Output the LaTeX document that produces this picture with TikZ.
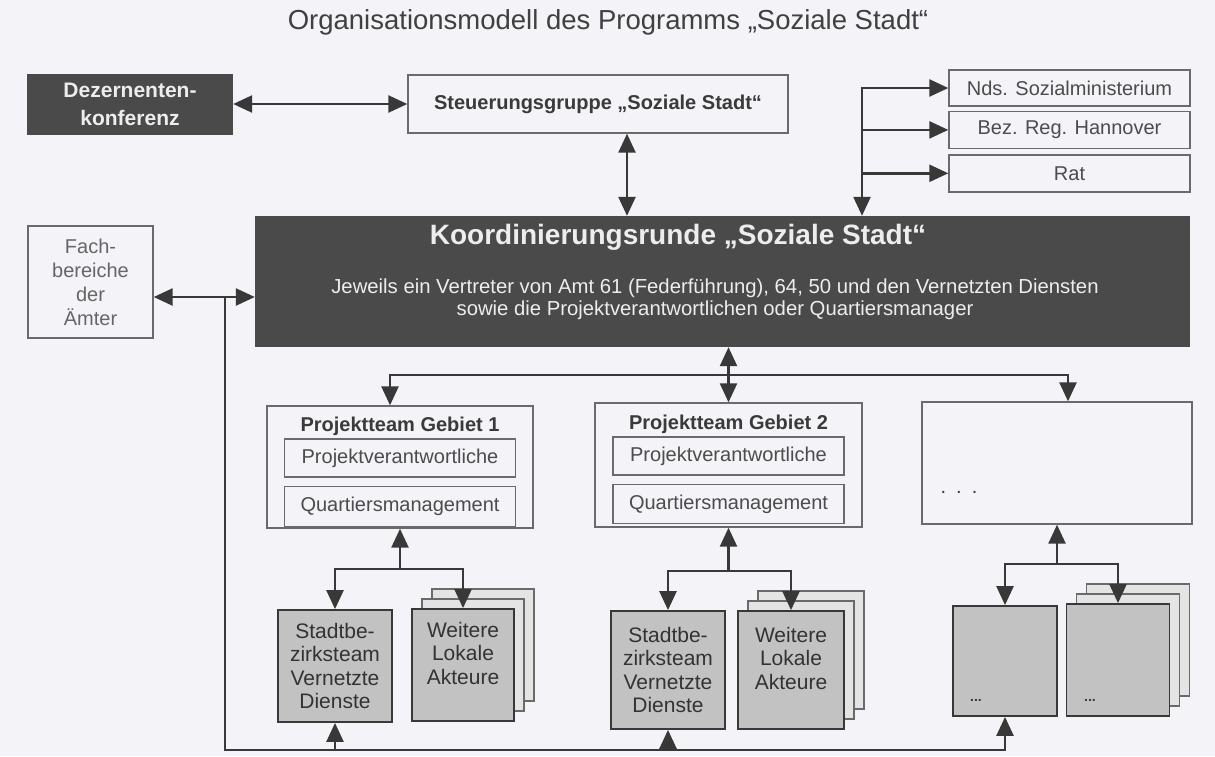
\documentclass[tikz,border=0pt]{standalone}
\usepackage{fontspec}
\setmainfont{Liberation Sans}
\usetikzlibrary{positioning,arrows.meta,shadows}
\definecolor{ScanWhite}{RGB}{243,243,248}
\definecolor{InkGray}{HTML}{383838}
\definecolor{FrameGray}{HTML}{6A6A6A}
\definecolor{DarkBox}{HTML}{4A4A4A}
\definecolor{TextGray}{HTML}{3A3A3A}
\definecolor{NoiseGray}{HTML}{C2C2C2}
\definecolor{SheetGray}{HTML}{E4E4E4}
\definecolor{LightText}{HTML}{EDEDED}

\begin{document}
\begin{tikzpicture}[x=1pt, y=-1pt,
  every node/.style={align=center, inner sep=0pt, text=TextGray},
  plainbox/.style={draw=FrameGray, line width=1.4pt},
  darkbox/.style={fill=DarkBox, text=LightText},
  sidebox/.style={plainbox, minimum width=241pt, minimum height=37pt, font=\fontsize{20}{24}\selectfont, text=black!70},
  innerbox/.style={plainbox, minimum width=231pt, minimum height=38pt, font=\fontsize{20}{24}\selectfont, text=black!70},
  localbox/.style={draw=InkGray, line width=1.8pt, fill=NoiseGray, minimum height=112pt, font=\fontsize{21}{23.3}\selectfont, text=black!80},
  stackbox/.style={localbox, double copy shadow={shadow xshift=10pt, shadow yshift=10pt, fill=SheetGray, draw=FrameGray}},
  link/.style={draw=InkGray, line width=2.5pt, line cap=rect},
  arr/.style={link, -{Triangle[length=19pt, width=17pt]}},
  biarr/.style={link, {Triangle[length=19pt, width=17pt]}-{Triangle[length=19pt, width=17pt]}}
]
  \fill[ScanWhite] (0,0) rectangle (1215,756);
  \useasboundingbox (0,0) rectangle (1215,756);

  % heading
  \node[font=\fontsize{27.5}{30}\selectfont, text=black!75] (title) at (608,22) {Organisationsmodell des Programms „Soziale Stadt“};

  % top row
  \node[darkbox, minimum width=206pt, minimum height=61pt, font=\bfseries\fontsize{21}{28}\selectfont] (dez) at (130,104) {Dezernenten-\\konferenz};
  \node[plainbox, minimum width=380pt, minimum height=58pt, font=\bfseries\fontsize{20}{24}\selectfont] (steuer) at (598,104) {Steuerungsgruppe „Soziale Stadt“};
  \node[sidebox, minimum height=36pt] (nds) at (1069.5,88) {Nds. Sozialministerium};
  \node[sidebox, below=4pt of nds] (bez) {Bez. Reg. Hannover};
  \node[sidebox, below=5pt of bez] (rat) {Rat};

  % coordination round
  \node[darkbox, minimum width=935pt, minimum height=131pt] (koord) at (722.5,281.5) {};
  \node[text=LightText, font=\bfseries\fontsize{28}{32}\selectfont] (koordtitle) at (678,237) {Koordinierungsrunde „Soziale Stadt“};
  \node[text=LightText, font=\fontsize{20.3}{21.5}\selectfont] (koordtext) at (715,299) {Jeweils ein Vertreter von Amt 61 (Federführung), 64, 50 und den Vernetzten Diensten\\sowie die Projektverantwortlichen oder Quartiersmanager};
  \node[plainbox, minimum width=125pt, minimum height=112pt, font=\fontsize{20}{24}\selectfont, text=black!60] (fach) at (90.5,282) {Fach-\\bereiche\\der\\Ämter};

  % project teams
  \node[plainbox, minimum width=266pt, minimum height=122pt] (pt1) at (400,467) {};
  \node[font=\bfseries\fontsize{20}{24}\selectfont] (pt1title) at ([yshift=-21pt]pt1.north) {Projektteam Gebiet 1};
  \node[innerbox, below=33pt of pt1.north] (pv1) {Projektverantwortliche};
  \node[innerbox, minimum height=40pt, below=8pt of pv1] (qm1) {Quartiersmanagement};
  \node[plainbox, minimum width=267pt, minimum height=124pt] (pt2) at (728.5,465) {};
  \node[font=\bfseries\fontsize{20}{24}\selectfont] (pt2title) at ([yshift=-22pt]pt2.north) {Projektteam Gebiet 2};
  \node[innerbox, below=34pt of pt2.north] (pv2) {Projektverantwortliche};
  \node[innerbox, minimum height=39pt, below=8pt of pv2] (qm2) {Quartiersmanagement};
  \node[plainbox, minimum width=270pt, minimum height=122pt] (pt3) at (1057,463) {};
  \node[font=\fontsize{20}{24}\selectfont] (pt3dots) at (959,492) {.\hspace{10pt}.\hspace{10pt}.};

  % local actors
  \node[localbox, minimum width=114pt] (sb1) at (335,666) {Stadtbe-\\zirksteam\\Vernetzte\\Dienste};
  \node[stackbox, minimum width=102pt] (we1) at (463,665) {Weitere\\Lokale\\Akteure\\~};
  \node[localbox, minimum width=114pt, minimum height=118pt] (sb2) at (668,670) {Stadtbe-\\zirksteam\\Vernetzte\\Dienste};
  \node[stackbox, minimum width=106pt, minimum height=118pt] (we2) at (791,670) {Weitere\\Lokale\\Akteure\\~};
  \node[localbox, minimum width=104pt, minimum height=110pt] (sb3) at (1005,661) {};
  \node[stackbox, minimum width=103pt, minimum height=112pt] (we3) at (1118,660) {};
  \node[font=\bfseries\fontsize{14}{14}\selectfont] (sb3dots) at (976,700) {...};
  \node[font=\bfseries\fontsize{14}{14}\selectfont] (we3dots) at (1090,700) {...};

  % connectors at the top
  \coordinate (skx) at (627,0);
  \coordinate (fanx) at (862,0);
  \coordinate (fky) at (0,297);
  \coordinate (fachjoin) at (225,297);
  \coordinate (busy) at (0,750);
  \draw[biarr] (dez.east) -- (steuer.west);
  \draw[biarr] (skx |- steuer.south) -- (skx |- koord.north);
  \draw[biarr] (nds.west) -| (fanx |- koord.north);
  \draw[arr] (fanx |- bez.west) -- (bez.west);
  \draw[arr] (fanx |- rat.west) -- (rat.west);
  \draw[biarr] (fach.east |- fky) -- (koord.west |- fky);

  % return line from the local actors
  \draw[link] (fachjoin) |- (sb3.south |- busy);
  \draw[arr] (sb1.south |- busy) -- (sb1.south);
  \draw[arr] (sb2.south |- busy) -- (sb2.south);
  \draw[arr] (sb3.south |- busy) -- (sb3.south);

  % coordination round to the project teams
  \coordinate (pt1in) at (390,375);
  \coordinate (pt3in) at (1068,375);
  \draw[arr] (pt3in) -| (pt1in |- pt1.north);
  \draw[arr] (pt3in) -- (pt3in |- pt3.north);
  \draw[biarr] (koord.south -| pt2.north) -- (pt2.north);

  % project teams to the local actors
  \coordinate (g1y) at (0,569);
  \coordinate (g2y) at (0,571);
  \coordinate (g3y) at (0,564);
  \draw[arr] (pt1.south |- g1y) -- (pt1.south);
  \draw[biarr] (sb1.north) |- (we1.north |- g1y) -- (we1.north);
  \draw[arr] (pt2.south |- g2y) -- (pt2.south);
  \draw[biarr] (sb2.north) |- (we2.north |- g2y) -- (we2.north);
  \draw[arr] (pt3.south |- g3y) -- (pt3.south);
  \draw[biarr] (sb3.north) |- (we3.north |- g3y) -- (we3.north);
\end{tikzpicture}
\end{document}
